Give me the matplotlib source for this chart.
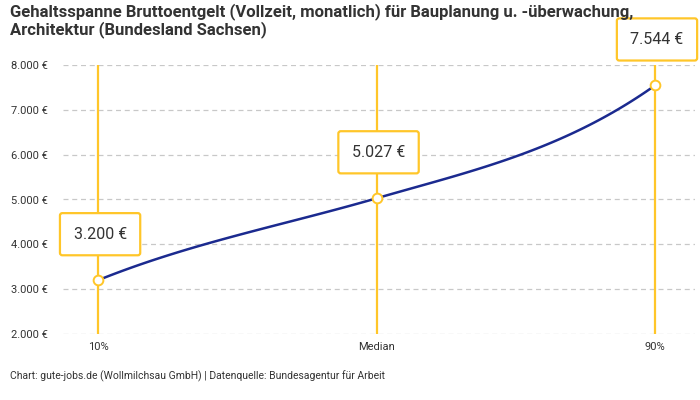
import numpy as np
import matplotlib.pyplot as plt
from matplotlib.ticker import FuncFormatter

# data
labels = ["10%", "Median", "90%"]
values = [3200, 5027, 7544]
# tangent (slope per category step) at each point, used only to draw the smooth curve
slopes = [2500, 1800, 4400]

title = ("Gehaltsspanne Bruttoentgelt (Vollzeit, monatlich) für Bauplanung u. -überwachung,\n"
         "Architektur (Bundesland Sachsen)")
footer = "Chart: gute-jobs.de (Wollmilchsau GmbH) | Datenquelle: Bundesagentur für Arbeit"

YELLOW = "#FFC629"
NAVY = "#1B2A8F"
TEXT = "#333333"

plt.rcParams["font.family"] = ["Roboto", "DejaVu Sans"]


def fmt_eur(v):
    return f"{v:,.0f} €".replace(",", ".")


def hermite(xs, ys, ms, n=60):
    # cubic hermite curve through the points
    out_x, out_y = [], []
    for i in range(len(xs) - 1):
        h = xs[i + 1] - xs[i]
        t = np.linspace(0, 1, n)
        h00 = 2 * t**3 - 3 * t**2 + 1
        h10 = t**3 - 2 * t**2 + t
        h01 = -2 * t**3 + 3 * t**2
        h11 = t**3 - t**2
        out_x.append(xs[i] + t * h)
        out_y.append(h00 * ys[i] + h10 * h * ms[i] + h01 * ys[i + 1] + h11 * h * ms[i + 1])
    return np.concatenate(out_x), np.concatenate(out_y)


fig = plt.figure(figsize=(7, 4), dpi=100)
ax = fig.add_axes([0.09, 0.165, 0.903, 0.6725])

x = np.arange(len(values))

for xi in x:
    ax.axvline(xi, color=YELLOW, lw=1.6, zorder=2)

cx, cy = hermite(x, values, slopes)
ax.plot(cx, cy, color=NAVY, lw=1.8, zorder=3, solid_capstyle="round")
ax.plot(x, values, "o", ms=7, mfc="white", mec=YELLOW, mew=1.4, zorder=4)

for xi, v in zip(x, values):
    ax.annotate(fmt_eur(v), (xi, v), xytext=(2, 46), textcoords="offset pixels",
                ha="center", va="center", fontsize=11.5, color=TEXT, zorder=5,
                bbox=dict(boxstyle="round,pad=0.85,rounding_size=0.15", fc="white",
                          ec=YELLOW, lw=1.6))

ax.set_xlim(-0.126, 2.144)
ax.set_ylim(2000, 8000)
ax.set_yticks(range(2000, 8001, 1000))
ax.yaxis.set_major_formatter(FuncFormatter(lambda v, p: fmt_eur(v)))
ax.set_xticks(x)
ax.set_xticklabels(labels)
ax.tick_params(axis="y", length=0, pad=11, labelsize=8, labelcolor=TEXT)
ax.tick_params(axis="x", length=0, pad=6, labelsize=8, labelcolor=TEXT)
ax.grid(axis="y", color="#C8C8C8", lw=0.9, ls=(0, (4, 3)))
ax.set_axisbelow(True)
for s in ax.spines.values():
    s.set_visible(False)

fig.text(0.014, 0.992, title, ha="left", va="top", fontsize=12, fontweight="bold",
         color=TEXT, linespacing=1.1)
fig.text(0.014, 0.06, footer, ha="left", va="center", fontsize=7.5, color=TEXT)

fig.savefig("out.png", dpi=100)
